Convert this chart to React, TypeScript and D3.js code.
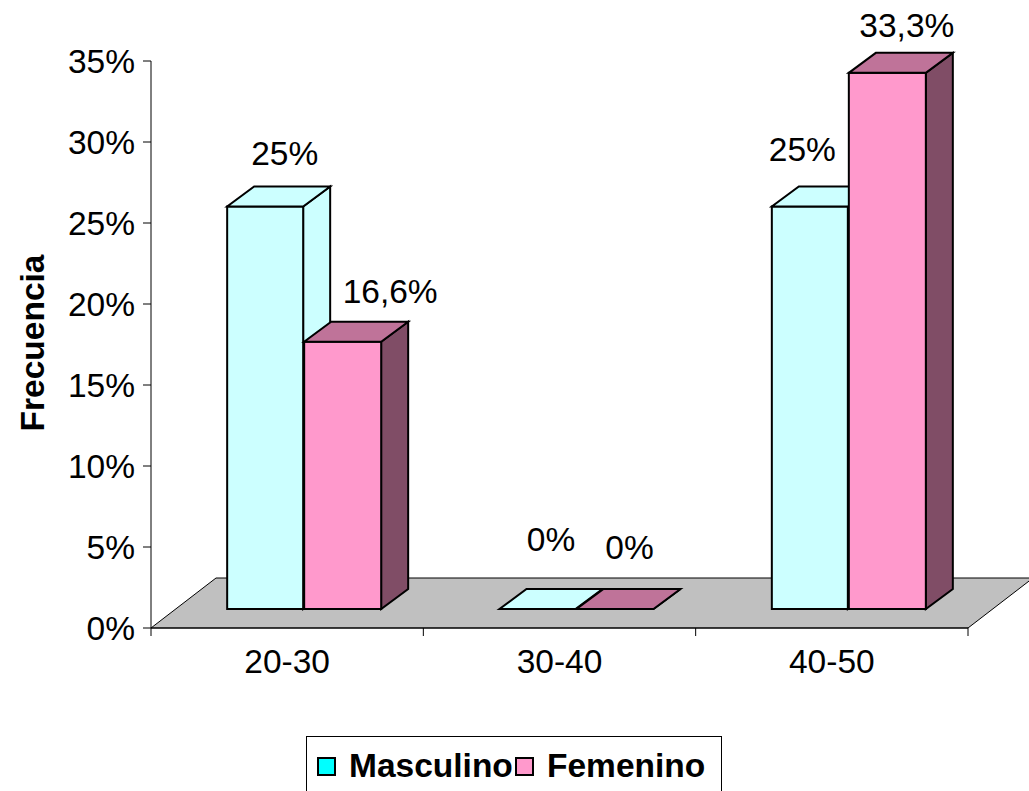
import React from "react";
import * as d3 from "d3";

// Age groups and the share of each sex per group (percent)
const categories = ["20-30", "30-40", "40-50"];
const masculino = [25, 0, 25];
const femenino = [16.6, 0, 33.3];
const yTicks = [0, 5, 10, 15, 20, 25, 30, 35];
const seriesNames = ["Masculino", "Femenino"];

// Hand-placed offsets of the value labels [dx, dy] (Masculino, Femenino per group)
const labelNudge: [number, number][][] = [
  [[6, -2], [34, 1]],
  [[0, -18], [1, -10]],
  [[-21, -6], [6, 4]],
];

const W = 1029;
const H = 791;
const FONT = "'Liberation Sans', Arial, Helvetica, sans-serif";
const FS = 33.5;

// Plot frame
const axisX = 151;
const floorRight = 968;
const floorDX = 65;
const floorDY = -50;
const barDX = 27;
const barDY = -20;
const barShift = 17;

const fmt = (v: number) =>
  (Number.isInteger(v) ? String(v) : v.toFixed(1).replace(".", ",")) + "%";

const palettes = [
  { front: "#CCFFFF", top: "#CCFFFF", side: "#CCFFFF", swatch: "#00FFFF" },
  { front: "#FF99CC", top: "#BF7399", side: "#804D66", swatch: "#FF99CC" },
];

export default function App() {
  const yAxis = d3.scaleLinear().domain([0, 35]).range([628, 61]);
  const yBar = d3.scaleLinear().domain([0, 35]).range([609, 609 - 35 * 16.1]);
  const x = d3.scaleBand<string>().domain(categories).range([axisX, floorRight]).paddingInner(0).paddingOuter(0);

  const series = [masculino, femenino];
  const base = yBar(0);

  const pts = (p: [number, number][]) => p.map((q) => q.join(",")).join(" ");

  const bars: React.ReactNode[] = [];
  const labels: React.ReactNode[] = [];
  categories.forEach((cat, ci) => {
    const c = (x(cat) as number) + x.bandwidth() / 2 + barShift;
    series.forEach((vals, si) => {
      const v = vals[ci];
      const x0 = si === 0 ? c - 77 : c;
      const x1 = si === 0 ? c - 1 : c + 77;
      const yt = yBar(v);
      const pal = palettes[si];
      const common = { stroke: "#000", strokeWidth: 2, strokeLinejoin: "miter" as const };
      bars.push(
        <g key={`b${ci}-${si}`}>
          <polygon
            points={pts([[x1, yt], [x1 + barDX, yt + barDY], [x1 + barDX, base + barDY], [x1, base]])}
            fill={pal.side}
            {...common}
          />
          {v > 0 && (
            <rect x={x0} y={yt} width={x1 - x0} height={base - yt} fill={pal.front} {...common} />
          )}
          <polygon
            points={pts([[x0, yt], [x1, yt], [x1 + barDX, yt + barDY], [x0 + barDX, yt + barDY]])}
            fill={pal.top}
            {...common}
          />
        </g>
      );
      const [ndx, ndy] = labelNudge[ci][si];
      labels.push(
        <text
          key={`l${ci}-${si}`}
          x={(x0 + x1) / 2 + barDX / 2 + ndx}
          y={yt + barDY - 20 + ndy}
          textAnchor="middle"
          fontSize={FS}
          fontFamily={FONT}
          fill="#000"
        >
          {fmt(v)}
        </text>
      );
    });
  });

  const floor: [number, number][] = [
    [axisX, 628],
    [floorRight, 628],
    [floorRight + floorDX, 628 + floorDY],
    [axisX + floorDX, 628 + floorDY],
  ];

  const catTicks = [axisX, ...categories.map((c) => (x(c) as number) + x.bandwidth())];

  return (
    <svg
      width={W}
      height={H}
      viewBox={`0 0 ${W} ${H}`}
      style={{ position: "absolute", left: 0, top: 0, background: "#fff" }}
    >
      <rect width={W} height={H} fill="#fff" />
      {/* floor */}
      <polygon points={pts(floor)} fill="#C0C0C0" stroke="#000" strokeWidth={1} />
      {/* axes */}
      <line x1={axisX} y1={yAxis(35)} x2={axisX} y2={628} stroke="#000" strokeWidth={1} />
      <line x1={axisX} y1={628} x2={floorRight} y2={628} stroke="#000" strokeWidth={1} />
      {yTicks.map((t) => (
        <g key={`yt${t}`}>
          <line x1={axisX - 8} x2={axisX} y1={yAxis(t)} y2={yAxis(t)} stroke="#000" strokeWidth={1} />
          <text
            x={135}
            y={yAxis(t) + 12}
            textAnchor="end"
            fontSize={FS}
            fontFamily={FONT}
            fill="#000"
          >
            {t}%
          </text>
        </g>
      ))}
      {catTicks.map((tx, i) => (
        <line key={`xt${i}`} x1={tx} x2={tx} y1={628} y2={636} stroke="#000" strokeWidth={1} />
      ))}
      {categories.map((cat) => (
        <text
          key={`xl${cat}`}
          x={(x(cat) as number) + x.bandwidth() / 2}
          y={673}
          textAnchor="middle"
          fontSize={FS}
          fontFamily={FONT}
          fill="#000"
        >
          {cat}
        </text>
      ))}
      {bars}
      {labels}
      {/* axis title */}
      <text
        transform="translate(44,343) rotate(-90)"
        textAnchor="middle"
        fontSize={FS}
        fontWeight="bold"
        fontFamily={FONT}
        fill="#000"
      >
        Frecuencia
      </text>
      {/* legend */}
      <rect x={306.5} y={736.5} width={415} height={60} fill="#fff" stroke="#000" strokeWidth={1} />
      {seriesNames.map((name, i) => {
        const sx = i === 0 ? 318 : 516;
        return (
          <g key={`lg${name}`}>
            <rect x={sx} y={758} width={17} height={17} fill={palettes[i].swatch} stroke="#000" strokeWidth={2} />
            <text
              x={sx + 31}
              y={777}
              fontSize={FS}
              fontWeight="bold"
              fontFamily={FONT}
              fill="#000"
            >
              {name}
            </text>
          </g>
        );
      })}
    </svg>
  );
}
